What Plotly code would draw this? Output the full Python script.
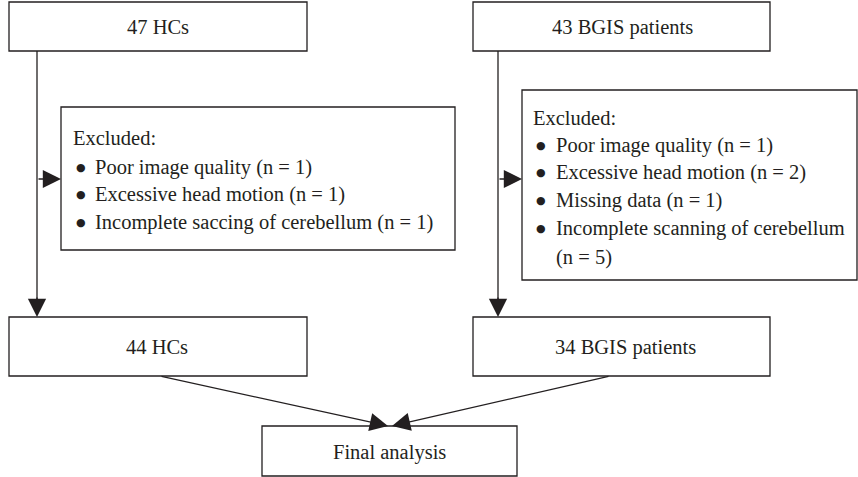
import plotly.graph_objects as go

# ---- data (text content of the flowchart) ----
top_boxes = ["47 HCs", "43 BGIS patients"]
excluded_title = "Excluded:"
hc_excluded = ["Poor image quality (n = 1)",
               "Excessive head motion (n = 1)",
               "Incomplete saccing of cerebellum (n = 1)"]
bgis_excluded = ["Poor image quality (n = 1)",
                 "Excessive head motion (n = 2)",
                 "Missing data (n = 1)",
                 "Incomplete scanning of cerebellum"]
bgis_continuation = "(n = 5)"
bottom_boxes = ["44 HCs", "34 BGIS patients"]
final_box = "Final analysis"

# ---- layout constants (pixel coordinates) ----
W, H = 858, 477
LC = "#231f20"
LW = 1.3
FONT = dict(family="Liberation Serif, DejaVu Serif, serif", size=20.5, color=LC)
BFONT = dict(family="DejaVu Sans, sans-serif", size=11, color=LC)

fig = go.Figure()
shapes = []
annotations = []


def box(x0, y0, x1, y1):
    shapes.append(dict(type="rect", x0=x0, y0=y0, x1=x1, y1=y1,
                       xref="x", yref="y", line=dict(color=LC, width=LW),
                       fillcolor="rgba(0,0,0,0)"))


def line(x0, y0, x1, y1):
    shapes.append(dict(type="line", x0=x0, y0=y0, x1=x1, y1=y1,
                       xref="x", yref="y", line=dict(color=LC, width=LW)))


def arrow(x0, y0, x1, y1):
    annotations.append(dict(x=x1, y=y1, ax=x0, ay=y0, xref="x", yref="y",
                            axref="x", ayref="y", text="", showarrow=True,
                            arrowhead=2, arrowsize=2.8, arrowwidth=LW,
                            arrowcolor=LC, standoff=0, startstandoff=0))


def text(x, y, s, anchor="center", font=FONT):
    annotations.append(dict(x=x, y=y, xref="x", yref="y", text=s,
                            showarrow=False, xanchor=anchor, yanchor="middle",
                            font=font))


# top boxes
box(9, 2, 307, 51)
text(158, 27, top_boxes[0])
box(473, 2, 770, 51)
text(622, 27, top_boxes[1])

# excluded boxes
box(61, 107, 455, 250)
text(71, 138, excluded_title, "left")
for i, s in enumerate(hc_excluded):
    y = 167 + i * 27.5
    text(74, y, "●", "left", BFONT)
    text(93, y, s, "left")

box(522, 90, 857, 280)
text(531, 118, excluded_title, "left")
for i, s in enumerate(bgis_excluded):
    y = 145 + i * 27.7
    text(534, y, "●", "left", BFONT)
    text(554, y, s, "left")
text(554, 257, bgis_continuation, "left")

# vertical flow lines
line(37, 51, 37, 300)
arrow(37, 296, 37, 317)
arrow(37, 179, 61, 179)
line(498, 51, 498, 300)
arrow(498, 296, 498, 317)
arrow(498, 179, 522, 179)

# bottom boxes
box(9, 317, 307, 376)
text(157, 347, bottom_boxes[0])
box(473, 317, 770, 376)
text(625, 347, bottom_boxes[1])

# final
box(262, 426, 517, 476)
text(389, 452, final_box)
arrow(160, 376, 388, 426)
arrow(610, 376, 392, 426)

fig.update_layout(
    width=W, height=H,
    margin=dict(l=0, r=0, t=0, b=0),
    paper_bgcolor="white", plot_bgcolor="white",
    xaxis=dict(range=[0, W], visible=False, fixedrange=True),
    yaxis=dict(range=[H, 0], visible=False, fixedrange=True),
    shapes=shapes, annotations=annotations, showlegend=False,
)
fig.write_html("out.html", config={"displayModeBar": False},
               post_script="document.body.style.margin='0';document.body.style.overflow='hidden';")
